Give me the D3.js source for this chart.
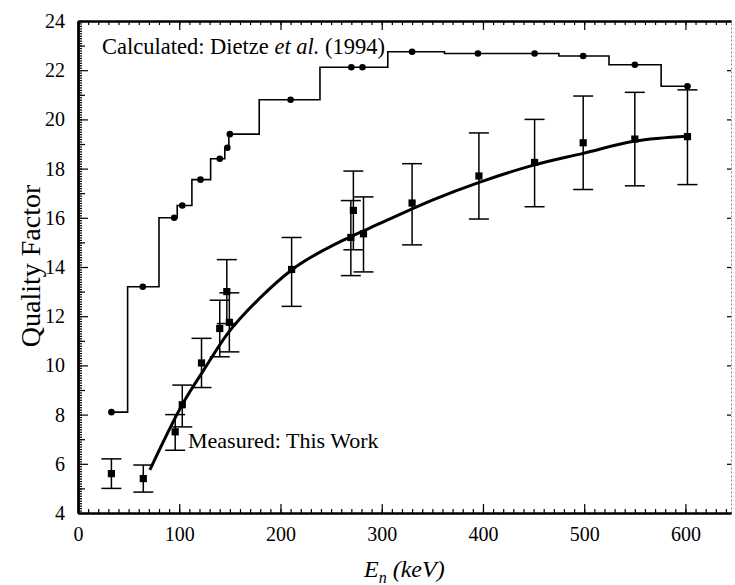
<!DOCTYPE html>
<html lang="en">
<head>
<meta charset="utf-8">
<title>Quality Factor vs neutron energy</title>
<style>
  body { margin: 0; background: #fff; }
  svg text { font-family: "Liberation Serif", "Times New Roman", serif; fill: #000; }
  .axis text { font-size: 20px; }
  .axis path, .axis line { stroke: #000; }
  .axis path { stroke-width: 2px; }
  .axis line { stroke-width: 1.2px; }
  .axis.right path { stroke: #888; stroke-width: 1px; stroke-dasharray: 2 2; }
  .step { fill: none; stroke: #000; stroke-width: 1.6px; }
  .fit { fill: none; stroke: #000; stroke-width: 3px; }
  .err { stroke: #000; stroke-width: 1.5px; }
</style>
</head>
<body>
<script src="https://cdn.jsdelivr.net/npm/d3@7"></script>
<script>
// Calculated: Dietze et al. (1994) -- circles
const calcE = [33, 64, 95, 103, 121, 140, 147.5, 150, 210, 270, 281, 330, 395, 451, 499, 550, 602];
const calcQ = [8.1, 13.2, 16.0, 16.5, 17.55, 18.4, 18.85, 19.4, 20.8, 22.12, 22.12, 22.75, 22.68, 22.68, 22.58, 22.22, 21.35];

// histogram drawn through the calculated points: left edge of each bin and its level
const stepE = [33, 49, 80, 98, 112.5, 131, 145, 149, 179, 239, 306, 362, 475, 524.5, 576, 605];
const stepQ = [8.1, 13.2, 16.0, 16.5, 17.55, 18.4, 18.85, 19.4, 20.8, 22.12, 22.75, 22.68, 22.58, 22.22, 21.35, 21.35];

// Measured: This Work -- squares with error bars
const measE  = [33, 64.5, 96, 103, 122, 140, 147, 149.5, 211, 269.5, 272, 282, 330, 396, 451, 499, 550, 602];
const measQ  = [5.6, 5.4, 7.3, 8.4, 10.1, 11.5, 13.0, 11.75, 13.9, 15.2, 16.3, 15.35, 16.6, 17.7, 18.25, 19.05, 19.2, 19.3];
const measLo = [5.0, 4.85, 6.55, 7.5, 9.1, 10.35, 11.7, 10.55, 12.4, 13.65, 14.7, 13.8, 14.9, 15.95, 16.45, 17.15, 17.3, 17.35];
const measHi = [6.2, 5.95, 8.0, 9.2, 11.1, 12.65, 14.3, 12.95, 15.2, 16.7, 17.9, 16.85, 18.2, 19.45, 20.0, 20.95, 21.1, 21.2];

// smooth fit through the measured data
const fitE = [71, 105, 124, 147, 180, 211, 260, 300, 350, 397, 451, 499, 550, 602];
const fitQ = [5.75, 8.55, 9.8, 11.25, 12.75, 13.88, 15.05, 15.8, 16.72, 17.45, 18.15, 18.62, 19.12, 19.32];

// tick values
const xMajor = d3.range(0, 601, 100);
const xMinor = d3.range(0, 641, 10);
const yMajor = d3.range(4, 25, 2);
const yMid = d3.range(5, 24, 2);
const yMinor = d3.range(40, 241, 1).map(v => v / 10);

const W = 735, H = 585;
const svg = d3.select('body').append('svg')
    .attr('width', W)
    .attr('height', H);

const x = d3.scaleLinear().domain([0, 645]).range([78, 731]);
const y = d3.scaleLinear().domain([4, 24]).range([513, 21]);

// axes -- all ticks point inward
svg.append('g').attr('class', 'axis right')
    .attr('transform', `translate(${x.range()[1]},0)`)
    .call(d3.axisRight(y).tickValues(yMajor).tickSize(-4).tickSizeOuter(0).tickFormat(''));

svg.append('g').attr('class', 'axis')
    .attr('transform', `translate(0,${y.range()[1]})`)
    .call(d3.axisTop(x).tickValues(xMinor).tickSize(-4).tickSizeOuter(0).tickFormat(''));
svg.append('g').attr('class', 'axis')
    .attr('transform', `translate(0,${y.range()[1]})`)
    .call(d3.axisTop(x).tickValues(xMajor).tickSize(-9).tickSizeOuter(0).tickFormat(''));

svg.append('g').attr('class', 'axis')
    .attr('transform', `translate(0,${y.range()[0]})`)
    .call(d3.axisBottom(x).tickValues(xMinor).tickSize(-4).tickSizeOuter(0).tickFormat(''));
svg.append('g').attr('class', 'axis')
    .attr('transform', `translate(0,${y.range()[0]})`)
    .call(d3.axisBottom(x).tickValues(xMajor).tickSize(-9).tickPadding(14).tickSizeOuter(0));

svg.append('g').attr('class', 'axis')
    .attr('transform', `translate(${x.range()[0]},0)`)
    .call(d3.axisLeft(y).tickValues(yMinor).tickSize(-4).tickSizeOuter(0).tickFormat(''));
svg.append('g').attr('class', 'axis')
    .attr('transform', `translate(${x.range()[0]},0)`)
    .call(d3.axisLeft(y).tickValues(yMid).tickSize(-7).tickSizeOuter(0).tickFormat(''));
svg.append('g').attr('class', 'axis')
    .attr('transform', `translate(${x.range()[0]},0)`)
    .call(d3.axisLeft(y).tickValues(yMajor).tickSize(-10).tickPadding(13).tickSizeOuter(0));

// calculated step curve
const stepPts = stepE.map((e, i) => [e, stepQ[i]]);
svg.append('path')
    .attr('class', 'step')
    .attr('d', d3.line().x(d => x(d[0])).y(d => y(d[1])).curve(d3.curveStepAfter)(stepPts));

svg.append('g').selectAll('circle')
    .data(calcE.map((e, i) => [e, calcQ[i]]))
    .join('circle')
    .attr('cx', d => x(d[0]))
    .attr('cy', d => y(d[1]))
    .attr('r', 3.3)
    .attr('fill', '#000');

// measured error bars
const meas = measE.map((e, i) => ({e, q: measQ[i], lo: measLo[i], hi: measHi[i]}));
const cap = 10;
const eb = svg.append('g').selectAll('g').data(meas).join('g');
eb.append('line').attr('class', 'err')
    .attr('x1', d => x(d.e)).attr('x2', d => x(d.e))
    .attr('y1', d => y(d.lo)).attr('y2', d => y(d.hi));
eb.append('line').attr('class', 'err')
    .attr('x1', d => x(d.e) - cap).attr('x2', d => x(d.e) + cap)
    .attr('y1', d => y(d.hi)).attr('y2', d => y(d.hi));
eb.append('line').attr('class', 'err')
    .attr('x1', d => x(d.e) - cap).attr('x2', d => x(d.e) + cap)
    .attr('y1', d => y(d.lo)).attr('y2', d => y(d.lo));
eb.append('rect')
    .attr('x', d => x(d.e) - 3.6).attr('y', d => y(d.q) - 3.6)
    .attr('width', 7.2).attr('height', 7.2)
    .attr('fill', '#000');

// fitted curve
svg.append('path')
    .attr('class', 'fit')
    .attr('d', d3.line().x((d, i) => x(d)).y((d, i) => y(fitQ[i])).curve(d3.curveMonotoneX)(fitE));

// labels
const calcLabel = svg.append('text')
    .attr('x', 102).attr('y', 54)
    .style('font-size', '22.5px');
calcLabel.append('tspan').text('Calculated: Dietze ');
calcLabel.append('tspan').style('font-style', 'italic').text('et al.');
calcLabel.append('tspan').text(' (1994)');

svg.append('text')
    .attr('x', 188).attr('y', 448)
    .style('font-size', '22px')
    .text('Measured: This Work');

svg.append('text')
    .attr('transform', 'translate(40,266) rotate(-90)')
    .attr('text-anchor', 'middle')
    .style('font-size', '28px')
    .text('Quality Factor');

const xt = svg.append('text')
    .attr('x', 364).attr('y', 577)
    .style('font-size', '24px')
    .style('font-style', 'italic');
xt.append('tspan').text('E');
xt.append('tspan').attr('dy', 6).style('font-size', '16px').text('n');
xt.append('tspan').attr('dy', -6).text(' (keV)');
</script>
</body>
</html>
